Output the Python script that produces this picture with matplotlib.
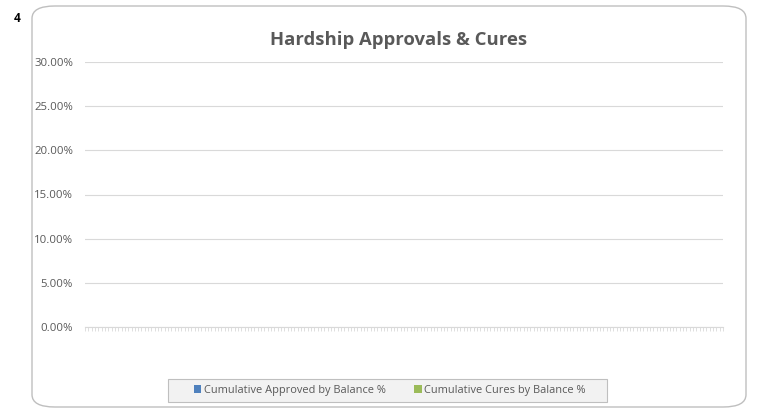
import matplotlib.pyplot as plt
from matplotlib.patches import FancyBboxPatch, Patch, Rectangle
import numpy as np

# ---- data ----
N_CAT = 192
categories = [str(i + 1) for i in range(N_CAT)]
approved_pct = [None] * N_CAT   # Cumulative Approved by Balance %
cures_pct = [None] * N_CAT      # Cumulative Cures by Balance %
y_ticks = [0.0, 0.05, 0.10, 0.15, 0.20, 0.25, 0.30]

TXT = "#595959"
GRID = "#D9D9D9"
BLUE = "#4F81BD"
GREEN = "#9BBB59"
plt.rcParams['font.family'] = ['Open Sans', 'DejaVu Sans']

fig = plt.figure(figsize=(7.63, 4.13), dpi=100)
W, H = 763, 413

# rounded chart border
border = FancyBboxPatch((32 / W, 6 / H), 714 / W, 401 / H,
                        boxstyle="round,pad=0,rounding_size=0.03",
                        transform=fig.transFigure, fill=False,
                        edgecolor="#BFBFBF", linewidth=1.0)
fig.patches.append(border)
fig.text(14 / W, 1 - 18 / H, "4", fontsize=8.5, fontweight="bold",
         ha="left", va="center", color="black")

ax = fig.add_axes([85 / W, 86 / H, 638 / W, 265 / H])
x = np.arange(N_CAT)
a = np.array(approved_pct, dtype=float)
c = np.array(cures_pct, dtype=float)
ax.plot(x, a, color=BLUE)
ax.plot(x, c, color=GREEN)

ax.set_xlim(-0.5, N_CAT - 0.5)
ax.set_ylim(0, 0.30)
ax.set_yticks(y_ticks)
ax.set_yticklabels(["%.2f%%" % (v * 100) for v in y_ticks], fontsize=8.2, color=TXT)
ax.set_xticks(np.arange(N_CAT + 1) - 0.5)
ax.set_xticklabels([])
ax.tick_params(axis="x", length=3, width=0.6, color=GRID, direction="out")
ax.tick_params(axis="y", length=0, pad=8.6)
ax.grid(axis="y", color=GRID, linewidth=0.8)
ax.set_axisbelow(True)
for s in ["top", "right", "left"]:
    ax.spines[s].set_visible(False)
ax.spines["bottom"].set_color(GRID)
ax.spines["bottom"].set_linewidth(0.8)
ax.spines["bottom"].set_zorder(0.5)

fig.text(399 / W, 1 - 40 / H, "Hardship Approvals & Cures", fontsize=13.3,
         fontweight="bold", color=TXT, ha="center", va="center")

# legend box
fig.patches.append(Rectangle((168 / W, 1 - 402 / H), 439 / W, 23 / H,
                             transform=fig.transFigure, facecolor="#F2F2F2",
                             edgecolor="#BFBFBF", linewidth=0.8))
handles = [Patch(facecolor=BLUE, label="Cumulative Approved by Balance %"),
           Patch(facecolor=GREEN, label="Cumulative Cures by Balance %")]
leg = fig.legend(handles=handles, loc="center", bbox_to_anchor=(390 / W, 1 - 390.5 / H),
                 ncol=2, fontsize=7.9, frameon=False,
                 handlelength=0.65, handleheight=0.65, handletextpad=0.25,
                 columnspacing=2.6, borderpad=0.2)
for t in leg.get_texts():
    t.set_color(TXT)

fig.savefig("out.png", dpi=100)
